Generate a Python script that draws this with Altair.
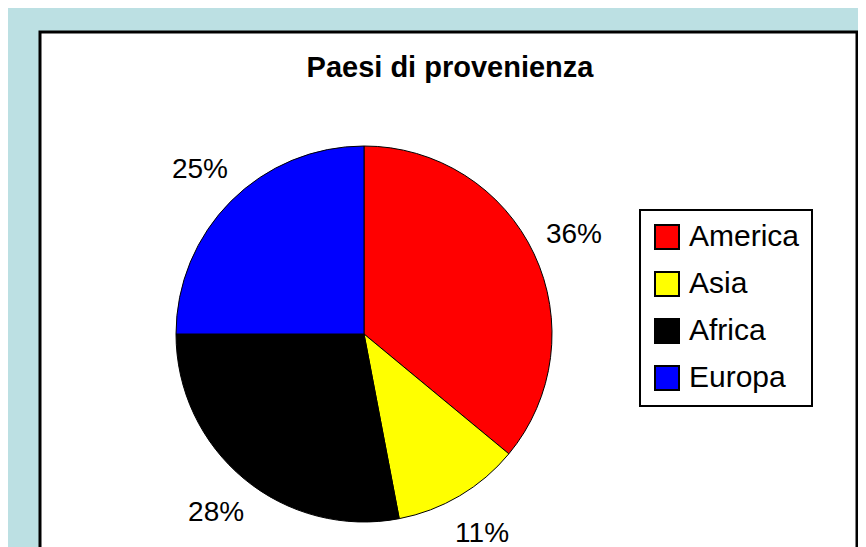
import altair as alt
import pandas as pd

paesi = ["America", "Asia", "Africa", "Europa"]
valori = [36, 11, 28, 25]
etichette = ["36%", "11%", "28%", "25%"]
colori = ["#ff0000", "#ffff00", "#000000", "#0000ff"]
titolo = "Paesi di provenienza"

df = pd.DataFrame({
    "paese": paesi,
    "valore": valori,
    "etichetta": etichette,
    "ord": list(range(len(paesi))),
})

CX, CY, R = 324, 302, 188

base = alt.Chart(df).encode(
    theta=alt.Theta("valore:Q", stack=True),
    order=alt.Order("ord:Q"),
)

pie = base.mark_arc(outerRadius=R, stroke="black", strokeWidth=1).encode(
    x=alt.value(CX),
    y=alt.value(CY),
    color=alt.Color(
        "paese:N",
        scale=alt.Scale(domain=paesi, range=colori),
        sort=paesi,
        legend=alt.Legend(
            title=None,
            orient="none",
            legendX=600,
            legendY=178,
            symbolType="square",
            symbolSize=576,
            symbolStrokeColor="black",
            symbolStrokeWidth=2,
            symbolOpacity=1,
            labelFontSize=30,
            labelFont="Liberation Sans",
            labelColor="black",
            labelOffset=7,
            rowPadding=15,
            padding=12,
            strokeColor="black",
            fillColor="white",
        ),
    ),
)

labels = base.mark_text(
    radius=232, fontSize=28, font="Liberation Sans", color="black",
    align="center", baseline="middle",
).encode(
    x=alt.value(CX),
    y=alt.value(CY),
    text="etichetta:N",
)

title_df = pd.DataFrame({"t": [titolo]})
title = alt.Chart(title_df).mark_text(
    fontSize=29, fontWeight="bold", font="Liberation Sans", color="black",
    align="center", baseline="alphabetic",
).encode(
    x=alt.value(410),
    y=alt.value(45),
    text="t:N",
)

chart = alt.layer(pie, labels, title).properties(
    width=817,
    height=530,
    padding={"left": 32, "top": 24, "right": 1, "bottom": 0},
    background="#bce0e3",
).configure_view(
    fill="white",
    stroke="black",
    strokeWidth=3,
).configure_legend(
    strokeWidth=2,
)

chart.save("out.html", embed_options={"renderer": "svg", "actions": False})
